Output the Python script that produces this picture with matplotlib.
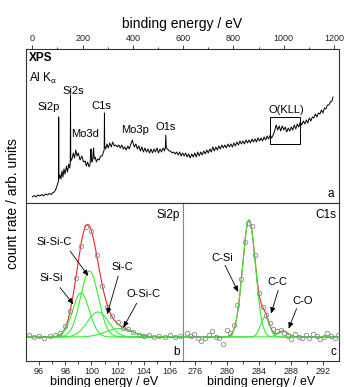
import matplotlib
matplotlib.use("Agg")
import matplotlib.pyplot as plt
import numpy as np
from matplotlib.patches import Rectangle

plt.rcParams['font.family'] = ['Liberation Sans', 'DejaVu Sans']
plt.rcParams['mathtext.fontset'] = 'custom'
plt.rcParams['mathtext.rm'] = 'Liberation Sans'
plt.rcParams['mathtext.it'] = 'Liberation Sans'

# survey spectrum (a), intensity in arb. units
survey_ev = [0, 8, 15, 22, 30, 38, 45, 52, 60, 68, 75, 82, 88, 94, 98, 102, 104, 105, 106,
             110, 114, 118, 122, 126, 130, 136, 140, 145, 149, 151, 152, 153, 158, 163, 168,
             173, 178, 183, 190, 197, 204, 210, 215, 220, 226, 230, 232, 234, 236, 240, 242,
             244, 246, 250, 255, 260, 266, 272, 278, 283, 286, 287, 288, 292, 297, 302, 308,
             314, 320, 326, 332, 338, 344, 350, 356, 362, 368, 374, 380, 386, 392, 398, 402,
             406, 412, 418, 424, 430, 436, 442, 448, 454, 460, 466, 472, 478, 484, 490, 496,
             502, 508, 514, 520, 526, 529, 531, 533, 538, 544, 550, 556, 562, 568, 574, 580,
             586, 592, 598, 604, 610, 616, 622, 628, 634, 640, 646, 652, 658, 664, 670, 676,
             682, 688, 694, 700, 706, 712, 718, 724, 730, 736, 742, 748, 754, 760, 766, 772,
             778, 784, 790, 796, 802, 808, 814, 820, 826, 832, 838, 844, 850, 856, 862, 868,
             874, 880, 886, 892, 898, 904, 910, 916, 922, 928, 934, 940, 946, 952, 958, 964,
             970, 976, 982, 988, 994, 1000, 1006, 1012, 1018, 1024, 1030, 1036, 1042, 1048,
             1054, 1060, 1066, 1072, 1078, 1084, 1090, 1096, 1102, 1108, 1114, 1120, 1126,
             1132, 1138, 1144, 1150, 1156, 1162, 1168, 1174, 1180, 1186, 1192, 1196]
survey_counts = [6, 7.5, 6, 8, 7, 8.5, 7, 9, 8, 9.5, 8.5, 10.5, 11, 14, 17, 20, 22, 86, 24,
                 28, 24, 32, 26, 34, 29, 37, 31, 39, 35, 40, 108, 42, 44, 50, 45,
                 53, 47, 50, 43, 47, 41, 42, 37, 41, 36, 39, 52, 54, 41, 42, 51,
                 55, 44, 46, 41, 44, 43, 47, 47, 51, 53, 90, 57, 54, 59, 55, 60,
                 56, 61, 57, 58, 56, 58, 55, 58, 54, 56, 53, 57, 54, 59, 63, 59,
                 56, 59, 54, 57, 52, 56, 51, 55, 51, 54, 50, 54, 50, 54, 51, 55,
                 50, 54, 51, 55, 52, 55, 68, 55, 54, 52, 52, 50, 51, 49, 51, 48,
                 51, 47, 50, 47, 50, 46, 49, 45, 49, 46, 50, 46, 51, 47, 51, 48,
                 52, 49, 53, 50, 54, 51, 56, 52, 56, 53, 57, 54, 58, 55, 58, 55,
                 59, 56, 59, 56, 60, 57, 61, 58, 62, 59, 62, 59, 63, 60, 63, 60,
                 64, 61, 64, 61, 65, 62, 65, 62, 66, 63, 67, 64, 68, 65, 68, 72,
                 78, 73, 77, 72, 77, 73, 76, 71, 75, 72, 76, 73, 78, 74,
                 79, 76, 81, 78, 82, 79, 83, 80, 85, 82, 86, 85, 89,
                 86, 90, 89, 93, 90, 95, 94, 98, 98, 101, 102, 106]

peak_labels = ['Si2p', 'Si2s', 'Mo3d', 'C1s', 'Mo3p', 'O1s', 'O(KLL)']
peak_label_ev = [65, 165, 210, 276, 409, 530, 1009]
peak_label_y = [95.5, 112, 69, 97, 73, 76, 93]

# Si2p (b): measured points and fit components (center, height, fwhm)
si_ev = [95.2, 95.6, 96.0, 96.4, 96.8, 97.2, 97.6, 98.0, 98.4, 98.8, 99.2, 99.6, 100.0,
         100.4, 100.8, 101.2, 101.6, 102.0, 102.4, 102.8, 103.2, 103.6, 104.0, 104.4,
         104.8, 105.2, 105.6, 106.0, 106.4, 106.8]
si_counts = [1.5, -0.5, 1.0, -1.0, 0.5, 1.5, 3.5, 10.5, 26, 58.5, 91, 110, 106,
             82, 51, 30, 21, 14.5, 8.5, 7.5, 5, 2, 1, 2,
             -0.5, 1, 0, 1.5, -0.5, 1]
si_names = ['Si-Si', 'Si-Si-C', 'Si-C', 'O-Si-C']
si_center = [99.2, 99.85, 100.5, 102.1]
si_height = [44, 66, 25, 8.5]
si_fwhm = [1.5, 1.6, 1.9, 2.4]

# C1s (c)
c_ev = [275.0, 275.45, 275.9, 276.35, 276.8, 277.25, 277.7, 278.15, 278.6, 279.05, 279.5,
        279.95, 280.4, 280.85, 281.3, 281.75, 282.2, 282.65, 283.1, 283.55, 284.0, 284.45,
        284.9, 285.35, 285.8, 286.25, 286.7, 287.15, 287.6, 288.05, 288.5, 288.95, 289.4,
        289.85, 290.3, 290.75, 291.2, 291.65, 292.1, 292.55, 293.0, 293.45, 293.9]
c_counts = [4, 1, 3, -1, -4, -1, 2, 6, 0, -1, -7,
            7, 4, 12, 32, 58, 95, 114, 111, 82, 44, 30,
            22, 14, 8, 6, 7, 4, 1, -2, 3, 0, -1,
            2, -1, 3, 1, -2, 0, 4, 1, -1, 2]
c_names = ['C-Si', 'C-C', 'C-O']
c_center = [282.75, 284.75, 287.0]
c_height = [117, 20, 6]
c_fwhm = [1.9, 1.3, 1.5]


def gauss(x, c, h, w):
    s = w / 2.3548
    return h * np.exp(-(x - c) ** 2 / (2 * s ** 2))


fig = plt.figure(figsize=(3.44, 3.87), dpi=100)
ax_a = fig.add_axes([0.0756, 0.4755, 0.9099, 0.3979])
ax_b = fig.add_axes([0.0756, 0.0672, 0.4564, 0.4083])
ax_c = fig.add_axes([0.5320, 0.0672, 0.4535, 0.4083])

spine_col = '#333333'
for ax in (ax_a, ax_b, ax_c):
    for s in ax.spines.values():
        s.set_color(spine_col)
        s.set_linewidth(0.8)
    ax.set_yticks([])
    ax.tick_params(axis='x', labelsize=6.5, length=3, width=0.6, pad=1.5, colors='#222222')
    ax.tick_params(axis='x', which='minor', length=1.8, width=0.6, colors='#222222')

# panel a
ax_a.plot(survey_ev, survey_counts, color='black', lw=0.7)
ax_a.set_xlim(-25, 1220)
ax_a.set_ylim(0, 154)
ax_a.xaxis.tick_top()
ax_a.xaxis.set_label_position('top')
ax_a.set_xticks(np.arange(0, 1201, 200))
ax_a.set_xticks(np.arange(100, 1200, 200), minor=True)
ax_a.set_xlabel('binding energy / eV', fontsize=10, labelpad=4)
ax_a.text(-12, 145, 'XPS', fontsize=8.5, fontweight='bold', ha='left', va='center')
ax_a.text(-12, 125, r'Al K$_{\alpha}$', fontsize=8.5, ha='left', va='center')
for lab, x, y in zip(peak_labels, peak_label_ev, peak_label_y):
    ax_a.text(x, y, lab, fontsize=8, ha='center', va='center')
ax_a.add_patch(Rectangle((946, 59), 119, 27, fill=False, ec='black', lw=0.7))
ax_a.text(0.985, 0.06, 'a', transform=ax_a.transAxes, fontsize=8.5, ha='right', va='center')


def fit_panel(ax, ev, counts, centers, heights, fwhms, xlim):
    x = np.linspace(xlim[0], xlim[1], 600)
    comps = [gauss(x, c, h, w) for c, h, w in zip(centers, heights, fwhms)]
    ax.plot(x, np.sum(comps, axis=0), color='#ff2020', lw=0.8, zorder=2)
    for comp in comps:
        ax.plot(x, comp, color='#33ee33', lw=0.8, zorder=2.5)
    ax.plot(ev, counts, 'o', mfc='none', mec='#8a8a8a', ms=3.2, mew=0.6, zorder=3)
    ax.set_xlim(*xlim)
    ax.set_ylim(-24, 134)
    ax.tick_params(axis='x', pad=1)
    ax.set_xlabel('binding energy / eV', fontsize=9, labelpad=0)


arrow = dict(arrowstyle='-|>,head_length=0.35,head_width=0.15', color='black', lw=0.6,
             shrinkA=0, shrinkB=0)

fit_panel(ax_b, si_ev, si_counts, si_center, si_height, si_fwhm, (95, 107))
ax_b.set_xticks(np.arange(96, 107, 2))
ax_b.set_xticks(np.arange(97, 107, 2), minor=True)
ax_b.spines['right'].set_color('#888888')
for name, txt, start, end in zip(
        si_names,
        [(96.92, 58.7), (97.15, 94.7), (102.37, 69.7), (104.0, 42.7)],
        [(97.6, 49.4), (98.37, 86), (102.05, 61), (103.46, 33.7)],
        [(98.62, 32.7), (99.76, 61), (101.2, 22.7), (102.44, 9.4)]):
    ax_b.text(*txt, name, fontsize=8, ha='center', va='center')
    ax_b.annotate('', xy=end, xytext=start, arrowprops=arrow)
ax_b.text(0.98, 0.924, 'Si2p', transform=ax_b.transAxes, fontsize=8.5, ha='right', va='center')
ax_b.text(0.98, 0.057, 'b', transform=ax_b.transAxes, fontsize=8.5, ha='right', va='center')

fit_panel(ax_c, c_ev, c_counts, c_center, c_height, c_fwhm, (274.5, 294))
ax_c.set_xticks(np.arange(276, 293, 4))
ax_c.set_xticks(np.arange(278, 294, 4), minor=True)
ax_c.spines['left'].set_color('#888888')
for name, txt, start, end in zip(
        c_names,
        [(279.4, 79.2), (286.3, 54.7), (289.4, 35.7)],
        [(279.75, 71.7), (286.4, 46.7), (288.7, 28.4)],
        [(281.4, 45), (285.5, 23.4), (287.7, 8.4)]):
    ax_c.text(*txt, name, fontsize=8, ha='center', va='center')
    ax_c.annotate('', xy=end, xytext=start, arrowprops=arrow)
ax_c.text(0.985, 0.924, 'C1s', transform=ax_c.transAxes, fontsize=8.5, ha='right', va='center')
ax_c.text(0.985, 0.057, 'c', transform=ax_c.transAxes, fontsize=8.5, ha='right', va='center')

fig.text(0.038, 0.473, 'count rate / arb. units', rotation=90, fontsize=10,
         ha='center', va='center')

fig.savefig('out.png', dpi=100)
